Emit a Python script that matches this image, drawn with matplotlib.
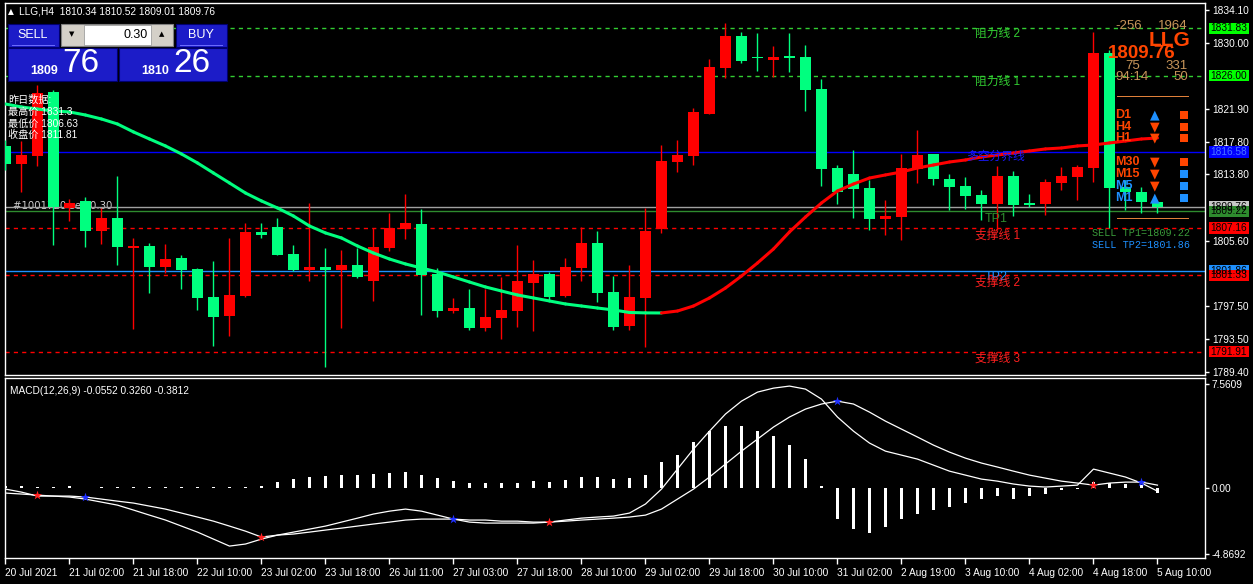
import matplotlib
matplotlib.use('Agg')
import matplotlib.pyplot as plt
from matplotlib.patches import Rectangle
from matplotlib.collections import LineCollection
import matplotlib.transforms as mtrans
import numpy as np

plt.rcParams['font.family'] = ['Liberation Sans', 'Noto Sans CJK SC', 'DejaVu Sans']

# ---------------- data ----------------
tick_bars = [0, 4, 8, 12, 16, 20, 24, 28, 32, 36, 40, 44, 48, 52, 56, 60, 64, 68, 72]
tick_labels = ["20 Jul 2021", "21 Jul 02:00", "21 Jul 18:00", "22 Jul 10:00", "23 Jul 02:00",
               "23 Jul 18:00", "26 Jul 11:00", "27 Jul 03:00", "27 Jul 18:00", "28 Jul 10:00",
               "29 Jul 02:00", "29 Jul 18:00", "30 Jul 10:00", "31 Jul 02:00", "2 Aug 19:00",
               "3 Aug 10:00", "4 Aug 02:00", "4 Aug 18:00", "5 Aug 10:00"]

opens = [1817.31, 1815.08, 1816.07, 1823.97, 1809.69, 1810.52, 1806.81, 1808.42, 1804.75, 1804.96,
         1802.37, 1803.48, 1802.12, 1798.66, 1796.32, 1798.79, 1806.69, 1807.32, 1803.97, 1802.00,
         1802.37, 1802.00, 1802.61, 1800.64, 1804.71, 1807.06, 1807.67, 1801.50, 1796.93, 1797.30,
         1794.84, 1796.07, 1796.93, 1800.39, 1801.50, 1798.79, 1802.24, 1805.33, 1799.28, 1795.08,
         1798.54, 1807.06, 1815.37, 1816.07, 1821.30, 1826.98, 1830.89, 1828.17, 1827.96, 1828.42,
         1828.30, 1824.35, 1814.59, 1813.85, 1812.12, 1808.33, 1808.58, 1814.50, 1816.32, 1813.23,
         1812.37, 1811.26, 1810.18, 1813.60, 1810.27, 1810.18, 1812.74, 1813.48, 1814.59, 1828.79,
         1812.24, 1811.63, 1810.34]
highs = [1818.05, 1817.92, 1824.84, 1824.22, 1810.76, 1811.01, 1809.65, 1813.60, 1805.95, 1805.33,
         1805.21, 1803.85, 1802.24, 1803.11, 1805.95, 1807.80, 1807.80, 1808.42, 1805.08, 1810.27,
         1804.71, 1804.47, 1804.71, 1807.18, 1809.03, 1811.38, 1809.53, 1802.24, 1798.54, 1799.65,
         1799.65, 1801.13, 1805.08, 1803.23, 1801.75, 1803.48, 1807.31, 1806.81, 1801.25, 1802.61,
         1809.65, 1817.43, 1818.05, 1822.00, 1828.05, 1832.50, 1831.38, 1831.26, 1829.65, 1831.26,
         1829.78, 1825.58, 1814.96, 1816.81, 1813.11, 1810.63, 1816.32, 1819.28, 1816.32, 1813.85,
         1813.48, 1811.87, 1814.84, 1814.22, 1811.38, 1813.23, 1814.71, 1814.96, 1831.38, 1829.16,
         1813.11, 1812.24, 1810.52]
lows = [1814.34, 1811.63, 1814.84, 1805.08, 1808.08, 1804.87, 1805.21, 1802.65, 1794.75, 1799.19,
        1801.66, 1799.69, 1797.09, 1792.65, 1793.88, 1798.66, 1805.99, 1803.85, 1801.87, 1800.64,
        1790.05, 1794.84, 1801.00, 1798.17, 1804.34, 1805.82, 1796.44, 1796.19, 1796.68, 1794.59,
        1794.46, 1793.48, 1794.96, 1794.46, 1798.29, 1798.66, 1800.64, 1798.04, 1794.59, 1794.59,
        1792.49, 1806.60, 1814.13, 1814.96, 1821.30, 1825.74, 1827.59, 1826.61, 1825.86, 1826.48,
        1821.67, 1812.40, 1810.18, 1808.45, 1806.97, 1806.35, 1805.74, 1812.78, 1812.53, 1809.44,
        1809.53, 1808.17, 1806.93, 1808.66, 1809.77, 1808.79, 1811.87, 1810.63, 1812.86, 1807.18,
        1809.40, 1809.03, 1809.01]
closes = [1815.08, 1816.20, 1823.85, 1809.81, 1810.27, 1806.81, 1808.42, 1804.87, 1805.00, 1802.37,
          1803.35, 1802.00, 1798.54, 1796.19, 1798.91, 1806.69, 1806.35, 1803.85, 1802.00, 1802.37,
          1802.00, 1802.61, 1801.13, 1804.84, 1807.18, 1807.80, 1801.38, 1796.93, 1797.30, 1794.84,
          1796.19, 1797.06, 1800.64, 1801.50, 1798.66, 1802.37, 1805.33, 1799.16, 1794.96, 1798.66,
          1806.81, 1815.45, 1816.20, 1821.51, 1827.06, 1830.89, 1827.84, 1828.11, 1828.30, 1828.21,
          1824.26, 1814.50, 1811.66, 1812.03, 1808.33, 1808.70, 1814.59, 1816.20, 1813.23, 1812.28,
          1811.13, 1810.18, 1813.60, 1810.02, 1810.02, 1812.86, 1813.60, 1814.71, 1828.79, 1812.12,
          1811.63, 1810.44, 1809.76]

ma_line = [1822.49, 1822.12, 1821.87, 1821.63, 1821.51, 1821.13, 1820.64, 1820.02, 1819.04, 1818.17,
           1817.31, 1816.32, 1815.21, 1813.97, 1812.74, 1811.50, 1810.52, 1809.65, 1808.66, 1807.43,
           1806.57, 1805.95, 1804.96, 1804.09, 1803.35, 1802.74, 1802.24, 1801.75, 1801.13, 1800.51,
           1799.90, 1799.40, 1798.91, 1798.54, 1798.17, 1797.80, 1797.55, 1797.30, 1797.06, 1796.75,
           1796.70, 1796.69, 1796.93, 1797.55, 1798.54, 1799.77, 1801.25, 1802.86, 1804.59, 1806.69,
           1808.54, 1810.27, 1811.75, 1812.61, 1813.35, 1813.73, 1814.10, 1814.59, 1814.96, 1815.33,
           1815.58, 1815.95, 1816.20, 1816.44, 1816.69, 1816.94, 1817.06, 1817.31, 1817.43, 1817.68,
           1817.92, 1818.17, 1818.29]

macd_hist = [0.15, 0.10, 0.05, 0.05, 0.10, -0.05, 0.03, 0.03, 0.03, 0.03,
             0.03, 0.03, 0.03, 0.03, 0.03, 0.05, 0.10, 0.40, 0.60, 0.80,
             0.85, 0.90, 0.90, 1.00, 1.05, 1.15, 0.90, 0.70, 0.45, 0.35,
             0.30, 0.30, 0.35, 0.45, 0.40, 0.55, 0.75, 0.75, 0.60, 0.70,
             0.90, 1.90, 2.40, 3.30, 4.10, 4.50, 4.50, 4.10, 3.80, 3.10,
             2.10, 0.10, -2.30, -3.00, -3.30, -2.90, -2.30, -1.90, -1.60, -1.40,
             -1.10, -0.85, -0.65, -0.80, -0.60, -0.50, -0.20, -0.10, 0.40, 0.35,
             0.25, 0.20, -0.40]
macd_dif = [-0.11, -0.33, -0.62, -0.62, -0.69, -0.84, -1.06, -1.28, -1.64, -2.01,
            -2.37, -2.81, -3.25, -3.76, -4.27, -4.12, -3.76, -3.47, -3.25, -3.03,
            -2.81, -2.52, -2.23, -1.93, -1.72, -1.57, -1.72, -2.01, -2.30, -2.52,
            -2.59, -2.59, -2.59, -2.59, -2.52, -2.37, -2.23, -2.15, -2.08, -1.86,
            -1.20, -0.11, 1.35, 2.81, 4.12, 5.37, 6.31, 6.97, 7.26, 7.41,
            7.19, 6.46, 5.15, 4.12, 3.25, 2.66, 2.37, 2.08, 1.64, 1.20,
            0.91, 0.62, 0.47, 0.26, 0.11, 0.04, 0.11, 0.18, 1.35, 1.06,
            0.77, 0.33, -0.26]
macd_dea = [-0.40, -0.47, -0.55, -0.62, -0.62, -0.69, -0.84, -0.99, -1.13, -1.35,
            -1.57, -1.86, -2.15, -2.45, -2.81, -3.18, -3.61, -3.47, -3.39, -3.25,
            -3.10, -2.96, -2.81, -2.66, -2.52, -2.37, -2.30, -2.30, -2.30, -2.37,
            -2.37, -2.45, -2.45, -2.52, -2.52, -2.45, -2.37, -2.30, -2.23, -2.15,
            -2.01, -1.57, -0.84, -0.11, 0.77, 1.72, 2.66, 3.54, 4.42, 5.15,
            5.73, 6.10, 6.31, 6.10, 5.51, 4.85, 4.27, 3.69, 3.10, 2.59,
            2.15, 1.79, 1.50, 1.20, 0.91, 0.69, 0.47, 0.33, 0.18, 0.33,
            0.40, 0.40, 0.18]
cross_up_bars = [2, 16, 34, 68]
cross_dn_bars = [5, 28, 52, 71]

price_ticks = [1834.10, 1830.00, 1821.90, 1817.80, 1813.80, 1805.60, 1797.50, 1793.50, 1789.40]
macd_ticks = [7.5609, 0.0, -4.8692]

resist_levels = [1831.83, 1826.00]
support_levels = [1807.16, 1801.33, 1791.91]
mid_level = 1816.58
bid_level = 1809.76
tp1_level = 1809.22
tp2_level = 1801.86

# ---------------- figure ----------------
W, H = 1253, 584
fig = plt.figure(figsize=(W / 100, H / 100), dpi=100, facecolor='black')


def fx(x):
    return x / W


def fy(y):
    return 1 - y / H


def ptext(x, y, s, **kw):
    kw.setdefault('va', 'center')
    kw.setdefault('ha', 'left')
    fig.text(fx(x), fy(y), s, **kw)


def prect(x0, y0, x1, y1, **kw):
    fig.add_artist(Rectangle((fx(x0), fy(y1)), (x1 - x0) / W, (y1 - y0) / H,
                             transform=fig.transFigure, **kw))


ax = fig.add_axes([fx(5), fy(375), fx(1205) - fx(5), fy(3) - fy(375)])
axm = fig.add_axes([fx(5), fy(558), fx(1205) - fx(5), fy(378) - fy(558)], sharex=ax)

for a in (ax, axm):
    a.set_facecolor('black')
    for s in a.spines.values():
        s.set_color('white')
        s.set_linewidth(1.0)

n = len(opens)
xs = np.arange(n)
ax.set_xlim(-0.03, 74.97)
ax.set_ylim(1789.03, 1834.96)

bull = '#ff0000'
bear = '#00ff7f'
o = np.array(opens); c = np.array(closes); hi = np.array(highs); lo = np.array(lows)
cols = [bull if c[i] >= o[i] else bear for i in range(n)]

# order label text under candles
ax.text(0.44, 1809.9, "#1001720 sell 0.30", color='#d0d0d0', fontsize=7.3, va='center',
        zorder=1, family=['DejaVu Sans'])

# horizontal levels
for lv in resist_levels:
    ax.axhline(lv, color='#32cd32', lw=1.0, ls=(0, (3, 3)), zorder=2)
for lv in support_levels:
    ax.axhline(lv, color='#ff0000', lw=1.0, ls=(0, (3, 3)), zorder=2)
ax.axhline(mid_level, color='#0000ff', lw=1.0, zorder=2)
ax.axhline(bid_level, color='#a0a0a0', lw=1.0, zorder=2)
ax.axhline(tp1_level, color='#2e8b2e', lw=1.0, zorder=2)
ax.axhline(tp2_level, color='#1e90ff', lw=1.0, zorder=2)

# candles
ax.vlines(xs, lo, hi, colors=cols, lw=1.0, zorder=3)
bottoms = np.minimum(o, c)
heights = np.maximum(np.abs(c - o), 0.16)
ax.bar(xs, heights, bottom=bottoms, width=0.69, color=cols, edgecolor='none', zorder=4)

# moving average, coloured by slope
ma = np.array(ma_line)
segs = [[(i, ma[i]), (i + 1, ma[i + 1])] for i in range(n - 1)]
seg_cols = [bull if ma[i + 1] > ma[i] else bear for i in range(n - 1)]
ax.add_collection(LineCollection(segs, colors=seg_cols, linewidths=2.2, zorder=5, capstyle='round'))

ax.yaxis.tick_right()
ax.set_yticks(price_ticks)
ax.set_yticklabels([f"{v:.2f}" for v in price_ticks])
ax.tick_params(axis='y', colors='white', labelsize=7.3, length=3, width=1, pad=2)
ax.tick_params(axis='x', bottom=False, labelbottom=False)

# right side coloured price boxes
bt = mtrans.blended_transform_factory(ax.transAxes, ax.transData)
boxes = [(bid_level, '#c8c8c8', 'black'), (tp1_level, '#2e8b2e', 'black'),
         (resist_levels[0], '#00ff00', 'black'), (resist_levels[1], '#00ff00', 'black'),
         (mid_level, '#0000ff', '#4a78ff'), (support_levels[0], '#ff0000', 'black'),
         (tp2_level, '#1e90ff', 'black'), (support_levels[1], '#ff0000', 'black'),
         (support_levels[2], '#ff0000', 'black')]
bh = 1.4
for lv, bg, fgc in boxes:
    ax.add_patch(Rectangle((1.003, lv - bh / 2), 0.0335, bh, transform=bt, facecolor=bg,
                           edgecolor='none', clip_on=False, zorder=10))
    ax.text(1.0197, lv, f"{lv:.2f}", transform=bt, ha='center', va='center', color=fgc,
            fontsize=7.3, clip_on=False, zorder=11)

# ---------------- MACD panel ----------------
axm.set_ylim(-5.14, 8.0)
axm.bar(xs, macd_hist, width=0.13, color='white', edgecolor='none', zorder=2)
axm.plot(xs, macd_dif, color='white', lw=0.9, zorder=3)
axm.plot(xs, macd_dea, color='white', lw=0.9, zorder=3)
dea = np.array(macd_dea)
axm.scatter(cross_up_bars, dea[cross_up_bars], marker='*', s=48, color='#ff2020', zorder=4, linewidths=0)
axm.scatter(cross_dn_bars, dea[cross_dn_bars], marker='*', s=48, color='#2030ff', zorder=4, linewidths=0)
axm.yaxis.tick_right()
axm.set_yticks(macd_ticks)
axm.set_yticklabels(["7.5609", "0.00", "-4.8692"])
axm.tick_params(axis='y', colors='white', labelsize=7.3, length=3, width=1, pad=2)
axm.set_xticks(tick_bars)
axm.set_xticklabels(tick_labels)
axm.tick_params(axis='x', colors='white', labelsize=7.3, length=4, width=1, pad=3)
for lbl in axm.get_xticklabels():
    lbl.set_ha('left')
axm.text(0.004, 0.955, "MACD(12,26,9) -0.0552 0.3260 -0.3812", transform=axm.transAxes,
         color='white', fontsize=7.3, va='top', ha='left')

# ---------------- overlay texts ----------------
ptext(8, 12, "▲", color='white', fontsize=5.5, family=['DejaVu Sans'])
ptext(19, 12, "LLG,H4  1810.34 1810.52 1809.01 1809.76", color='white', fontsize=7.3)

# trade panel
blue = '#1c1cc8'
prect(8, 24, 59, 47, facecolor=blue, edgecolor='#000070', lw=0.8)
prect(176, 24, 227, 47, facecolor=blue, edgecolor='#000070', lw=0.8)
prect(8, 48, 117, 81, facecolor=blue, edgecolor='#000070', lw=0.8)
prect(119, 48, 227, 81, facecolor=blue, edgecolor='#000070', lw=0.8)
prect(61, 24, 173, 46, facecolor='#d4d0c8', edgecolor='#808080', lw=0.8)
prect(84, 25, 151, 45, facecolor='white', edgecolor='#a0a0a0', lw=0.6)
prect(12, 45, 55, 46, facecolor='#6a6aff', edgecolor='none')
prect(180, 45, 223, 46, facecolor='#6a6aff', edgecolor='none')
ptext(33, 35, "SELL", color='white', fontsize=9, ha='center')
ptext(201, 35, "BUY", color='white', fontsize=9, ha='center')
ptext(72, 34, "▼", color='black', fontsize=5, ha='center', family=['DejaVu Sans'])
ptext(162, 34, "▲", color='black', fontsize=5, ha='center', family=['DejaVu Sans'])
ptext(148, 35, "0.30", color='black', fontsize=9, ha='right')
ptext(58, 71, "1809", color='white', fontsize=9, fontweight='bold', ha='right')
ptext(62, 64, "76", color='white', fontsize=24, ha='left')
ptext(169, 71, "1810", color='white', fontsize=9, fontweight='bold', ha='right')
ptext(173, 64, "26", color='white', fontsize=24, ha='left')

# yesterday data
ptext(8, 100, "昨日数据:", color='white', fontsize=7.3)
ptext(8, 112, "最高价 1831.3", color='white', fontsize=7.3)
ptext(8, 124, "最低价 1806.63", color='white', fontsize=7.3)
ptext(8, 135, "收盘价 1811.81", color='white', fontsize=7.3)

# level labels
ptext(975, 34, "阻力线 2", color='#32cd32', fontsize=8.5)
ptext(975, 82, "阻力线 1", color='#32cd32', fontsize=8.5)
ptext(966, 157, "多空分界线", color='#1a1aff', fontsize=8.5)
ptext(985, 219, "TP1", color='#2e8b2e', fontsize=9)
ptext(975, 236, "支撑线 1", color='#ff2020', fontsize=8.5)
ptext(985, 277, "TP2", color='#1e90ff', fontsize=9)
ptext(975, 283, "支撑线 2", color='#ff2020', fontsize=8.5)
ptext(975, 359, "支撑线 3", color='#ff2020', fontsize=8.5)
ptext(1092, 233, "SELL TP1=1809.22", color='#3a9a3a', fontsize=7.3, family=['Liberation Mono'])
ptext(1092, 245, "SELL TP2=1801.86", color='#1e90ff', fontsize=7.3, family=['Liberation Mono'])

# top right info block
tan = '#c8965a'
orange = '#ff4500'
ptext(1115, 26, "-256", color=tan, fontsize=9.5)
ptext(1188, 26, "1964", color=tan, fontsize=9.5, ha='right')
ptext(1190, 40, "LLG", color=orange, fontsize=15, fontweight='bold', ha='right')
ptext(1108, 53, "1809.76", color=orange, fontsize=13.5, fontweight='bold')
ptext(1140, 66, "75", color=tan, fontsize=9.5, ha='right')
ptext(1188, 66, "331", color=tan, fontsize=9.5, ha='right')
ptext(1115, 77, "94:14", color=tan, fontsize=9.5)
ptext(1188, 77, "50", color=tan, fontsize=9.5, ha='right')
prect(1117, 95.5, 1189, 96.5, facecolor='#e0803a', edgecolor='none')
prect(1117, 217.5, 1189, 218.5, facecolor='#e0803a', edgecolor='none')

tf_rows = [("D1", 115, orange, "▲", '#1e90ff', orange),
           ("H4", 127, orange, "▼", orange, orange),
           ("H1", 138, orange, "▼", orange, orange),
           ("M30", 162, orange, "▼", orange, orange),
           ("M15", 174, orange, "▼", orange, '#1e90ff'),
           ("M5", 186, '#1e90ff', "▼", orange, '#1e90ff'),
           ("M1", 198, '#1e90ff', "▲", '#1e90ff', '#1e90ff')]
for lab, yy, lc, arr, ac, sc in tf_rows:
    ptext(1115, yy, lab, color=lc, fontsize=9, fontweight='bold')
    ptext(1155, yy, arr, color=ac, fontsize=9, ha='center', family=['DejaVu Sans'])
    prect(1180, yy - 4, 1188, yy + 4, facecolor=sc, edgecolor='none')

fig.savefig('out.png', dpi=100, facecolor='black')
